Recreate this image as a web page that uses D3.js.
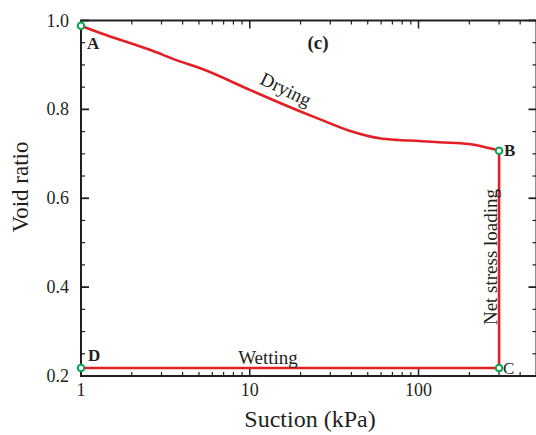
<!DOCTYPE html>
<html><head><meta charset="utf-8">
<script src="https://cdn.jsdelivr.net/npm/d3@7"></script>
<style>body{margin:0;background:#fff}svg{display:block}text{font-family:"Liberation Serif","Times New Roman",serif}</style>
</head><body><div id="chart"></div>
<script>
const dryingSuction = [1, 1.3, 2.56, 3.85, 5.05, 10, 15, 25.9, 39, 58.5, 76, 101, 132, 199, 261, 300];
const dryingVoid = [0.988, 0.972, 0.934, 0.908, 0.893, 0.844, 0.815, 0.778, 0.752, 0.735, 0.731, 0.729, 0.726, 0.722, 0.713, 0.707];
const wettingSuction = [1, 300];
const wettingVoid = [0.218, 0.218];
const loadingSuction = [300, 300];
const loadingVoid = [0.707, 0.218];
const pointNames = ["A", "B", "C", "D"];
const pointSuction = [1, 300, 300, 1];
const pointVoid = [0.988, 0.707, 0.218, 0.218];
const xMajorTicks = [1, 10, 100];
const xTickLabels = ["1", "10", "100"];
const yMajorTicks = [0.2, 0.4, 0.6, 0.8, 1.0];
const yTickLabels = ["0.2", "0.4", "0.6", "0.8", "1.0"];

const W = 536, H = 435;
const svg = d3.select("#chart").append("svg").attr("width", W).attr("height", H);
const x = d3.scaleLog().domain([1, 500]).range([81, 536.5]);
const y = d3.scaleLinear().domain([0.2, 1.0]).range([376, 20.5]);
const x0 = x.range()[0], x1 = x.range()[1], yb = y.range()[0], yt = y.range()[1];
const ink = "#231f20";

const xMinor = [];
for (let d = 1; d <= 100; d *= 10) for (let k = 2; k <= 9; k++) if (d * k <= 500) xMinor.push(d * k);
const yMinor = d3.range(0.25, 1.0, 0.05).filter(v => Math.abs(v * 5 - Math.round(v * 5)) > 1e-6);

const ax = svg.append("g").attr("stroke", ink);
const tick = (x1_, y1_, x2_, y2_, w) => ax.append("line").attr("x1", x1_).attr("y1", y1_).attr("x2", x2_).attr("y2", y2_).attr("stroke-width", w);
xMajorTicks.forEach(v => { tick(x(v), yb, x(v), yb - 8, 1.5); tick(x(v), yt, x(v), yt + 8, 1.5); });
xMinor.forEach(v => { tick(x(v), yb, x(v), yb - 4, 1.2); tick(x(v), yt, x(v), yt + 4, 1.2); });
yMajorTicks.forEach(v => { tick(x0, y(v), x0 + 8, y(v), 1.8); tick(x1, y(v), x1 - 8, y(v), 1.8); });
yMinor.forEach(v => { tick(x0, y(v), x0 + 4, y(v), 1.2); tick(x1, y(v), x1 - 4, y(v), 1.2); });
ax.append("rect").attr("x", x0).attr("y", yt).attr("width", x1 - x0).attr("height", yb - yt)
  .attr("fill", "none").attr("stroke-width", 2);

svg.append("g").selectAll("text").data(xMajorTicks).join("text")
  .attr("x", d => x(d)).attr("y", 396).attr("text-anchor", "middle")
  .attr("font-size", 18).attr("fill", ink).text((d, i) => xTickLabels[i]);
svg.append("g").selectAll("text").data(yMajorTicks).join("text")
  .attr("x", 69).attr("y", d => y(d) + 6).attr("text-anchor", "end")
  .attr("font-size", 18).attr("fill", ink).text((d, i) => yTickLabels[i]);

svg.append("text").attr("x", 310).attr("y", 427).attr("text-anchor", "middle")
  .attr("font-size", 24).attr("fill", ink).text("Suction (kPa)");
svg.append("text").attr("transform", "translate(28,187) rotate(-90)").attr("text-anchor", "middle")
  .attr("font-size", 23).attr("fill", ink).text("Void ratio");

const line = d3.line().x(d => x(d[0])).y(d => y(d[1]));
const red = "#e31e24";
svg.append("path").datum(d3.zip(dryingSuction, dryingVoid))
  .attr("d", line.curve(d3.curveMonotoneX)).attr("fill", "none").attr("stroke", red).attr("stroke-width", 2.6);
svg.append("path").datum(d3.zip(wettingSuction, wettingVoid))
  .attr("d", d3.line().x(d => x(d[0])).y(d => y(d[1]))).attr("fill", "none").attr("stroke", red).attr("stroke-width", 2.6);
svg.append("path").datum(d3.zip(loadingSuction, loadingVoid))
  .attr("d", d3.line().x(d => x(d[0])).y(d => y(d[1]))).attr("fill", "none").attr("stroke", red).attr("stroke-width", 2.6);

svg.append("g").selectAll("circle").data(pointNames).join("circle")
  .attr("cx", (d, i) => x(pointSuction[i])).attr("cy", (d, i) => y(pointVoid[i])).attr("r", 3.3)
  .attr("fill", "#fff").attr("stroke", "#00a651").attr("stroke-width", 2);

const lab = [[6, 23, "bold"], [5, 5, "bold"], [4, 6, "normal"], [7, -7, "bold"]];
svg.append("g").selectAll("text").data(pointNames).join("text")
  .attr("x", (d, i) => x(pointSuction[i]) + lab[i][0]).attr("y", (d, i) => y(pointVoid[i]) + lab[i][1])
  .attr("font-size", 17).attr("font-weight", (d, i) => lab[i][2]).attr("fill", ink).text(d => d);

svg.append("text").attr("x", 318).attr("y", 49).attr("text-anchor", "middle")
  .attr("font-size", 19).attr("font-weight", "bold").attr("fill", ink).text("(c)");

svg.append("text").attr("transform", "translate(283,95) rotate(26)").attr("text-anchor", "middle")
  .attr("font-size", 19).attr("fill", ink).text("Drying");
svg.append("text").attr("x", 268).attr("y", 364).attr("text-anchor", "middle")
  .attr("font-size", 19).attr("fill", ink).text("Wetting");
svg.append("text").attr("transform", "translate(497,257) rotate(-90)").attr("text-anchor", "middle")
  .attr("font-size", 19).attr("fill", ink).text("Net stress loading");
</script></body></html>
